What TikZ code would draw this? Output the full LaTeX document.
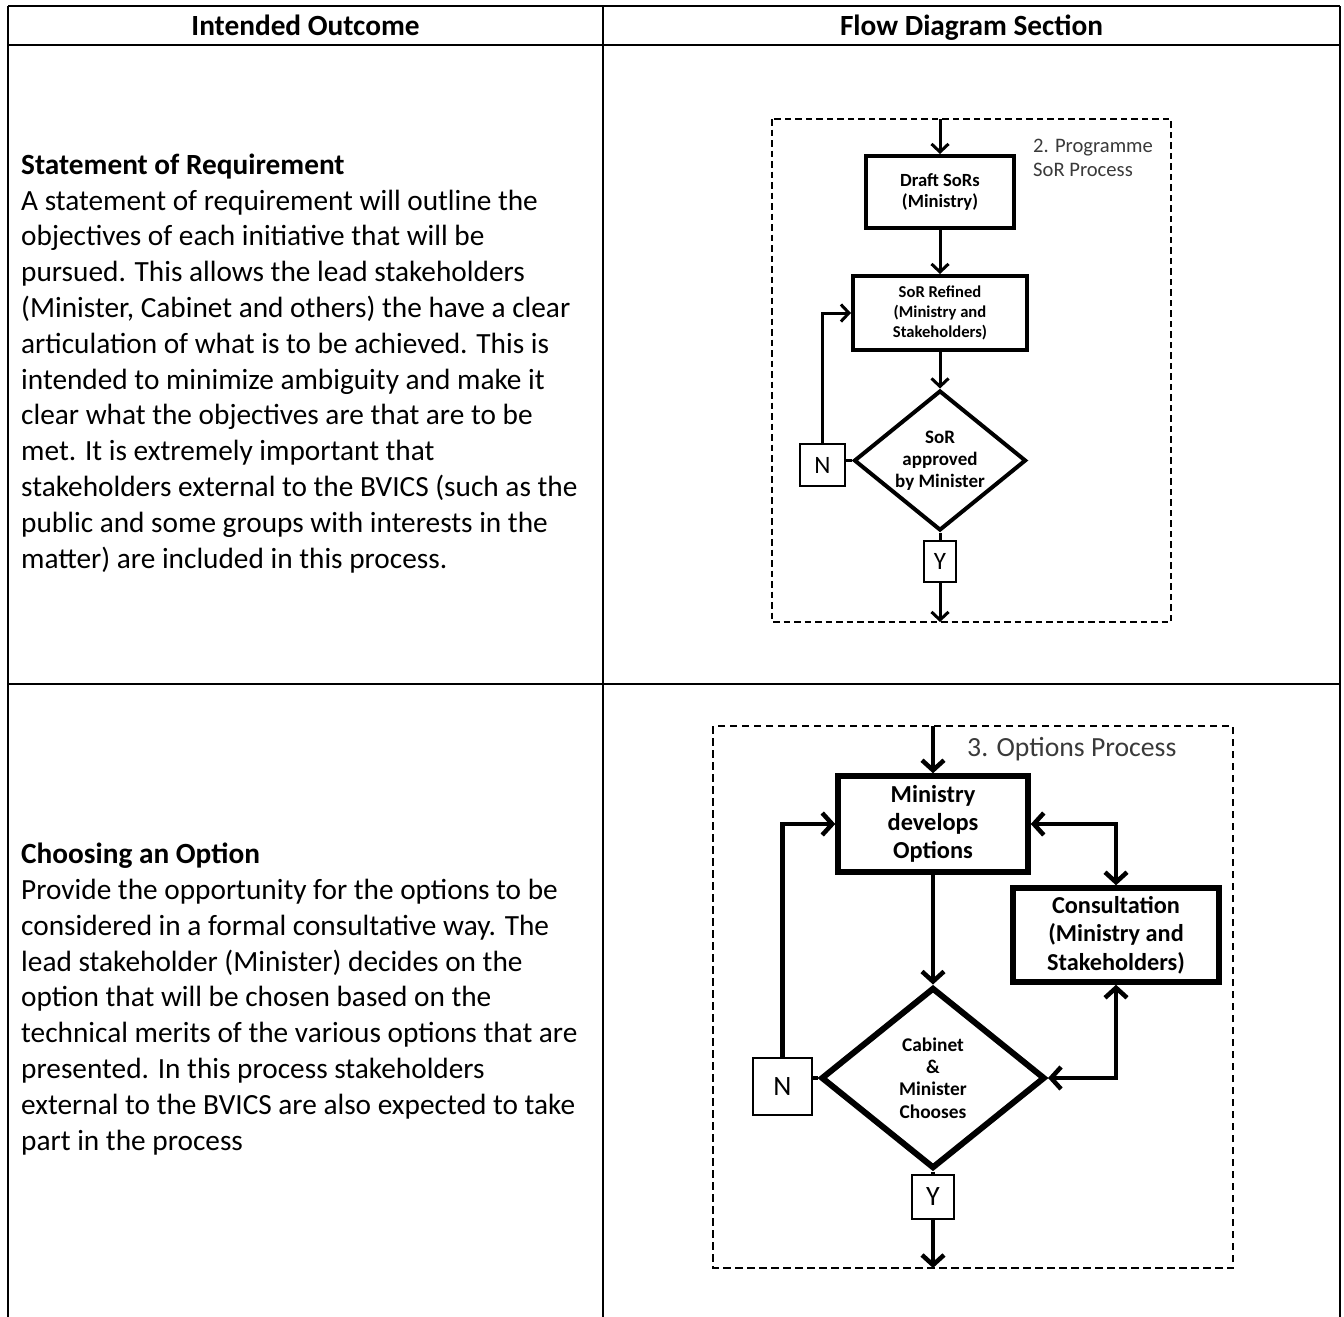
\documentclass[tikz,border=0pt]{standalone}
\usepackage{fontspec}
\setmainfont{Carlito}
\usetikzlibrary{shapes.geometric,arrows.meta}
\definecolor{labelgrey}{HTML}{3A3A3A}
\begin{document}
\begin{tikzpicture}[x=1pt,y=-1pt,
  rule/.style={line width=2.4pt},
  zoneA/.style={draw, line width=1.5pt, dash pattern=on 6.5pt off 4pt},
  zoneB/.style={draw, line width=1.5pt, dash pattern=on 7.5pt off 4.5pt},
  % multi-line nodes are anchored on the baseline of their last line
  celltext/.style={anchor=base west, align=left, inner sep=0pt, font=\fontsize{29.3}{35.8}\selectfont},
  headtext/.style={anchor=base, inner sep=0pt, font=\bfseries\fontsize{29.3}{35.8}\selectfont},
  zonelabel/.style={anchor=base west, align=left, inner sep=0pt, text=labelgrey},
  procA/.style={draw, line width=4pt, inner sep=0pt, align=center},
  procB/.style={draw, line width=5.5pt, inner sep=0pt, align=center},
  decA/.style={draw, diamond, aspect=1.2, line width=4pt, inner sep=0pt, align=center},
  decB/.style={draw, diamond, aspect=1.24, line width=6pt, inner sep=0pt, align=center},
  tagA/.style={draw, line width=2pt, inner sep=0pt, font=\fontsize{25}{28}\selectfont},
  tagB/.style={draw, line width=2pt, inner sep=0pt, font=\fontsize{28}{30}\selectfont},
  lineA/.style={line width=3pt},
  lineB/.style={line width=4.5pt},
  flowA/.style={line width=3pt, -{Straight Barb[length=8pt,width=17pt]}},
  flowB/.style={line width=4.5pt, -{Straight Barb[length=10pt,width=22pt]}},
  bothB/.style={line width=4.5pt, {Straight Barb[length=10pt,width=22pt]}-{Straight Barb[length=10pt,width=22pt]}}
]
% page
\fill[white] (0,0) rectangle (1344,1317);
\useasboundingbox (0,0) rectangle (1344,1317);

% table rules
\draw[rule] (8,6) -- (1340,6);
\draw[rule] (8,45) -- (1340,45);
\draw[rule] (8,684) -- (1340,684);
\draw[rule] (8,6) -- (8,1317);
\draw[rule] (603,6) -- (603,1317);
\draw[rule] (1340,6) -- (1340,1317);

% header row
\node[headtext] (hleft) at (305.5,35) {Intended Outcome};
\node[headtext] (hright) at (971.5,35) {Flow Diagram Section};

% left column texts
\node[celltext] (sortext) at (21,568) {\textbf{Statement of Requirement}\\
A statement of requirement will outline the\\
objectives of each initiative that will be\\
pursued. This allows the lead stakeholders\\
(Minister, Cabinet and others) the have a clear\\
articulation of what is to be achieved. This is\\
intended to minimize ambiguity and make it\\
clear what the objectives are that are to be\\
met. It is extremely important that\\
stakeholders external to the BVICS (such as the\\
public and some groups with interests in the\\
matter) are included in this process.};

\node[celltext] (opttext) at (21,1150) {\textbf{Choosing an Option}\\
Provide the opportunity for the options to be\\
considered in a formal consultative way. The\\
lead stakeholder (Minister) decides on the\\
option that will be chosen based on the\\
technical merits of the various options that are\\
presented. In this process stakeholders\\
external to the BVICS are also expected to take\\
part in the process};

% ---- programme SoR process ----
\draw[zoneA] (772,119) rectangle (1171,622);
\node[zonelabel, font=\fontsize{20.6}{24}\selectfont] (lab1) at (1033,176) {2. Programme\\SoR Process};

\node[procA, minimum width=148pt, minimum height=72pt,
      font=\bfseries\fontsize{18.6}{21}\selectfont] (draft) at (940,192) {Draft SoRs\\(Ministry)};
\node[procA, minimum width=174pt, minimum height=74pt,
      font=\bfseries\fontsize{16.6}{20}\selectfont] (refine) at (940,313) {SoR Refined\\(Ministry and\\Stakeholders)};
\node[decA, minimum width=172pt, minimum height=140pt,
      font=\bfseries\fontsize{19}{22}\selectfont] (appr) at (940,460.5) {SoR\\approved\\by Minister};
\node[tagA, minimum width=45pt, minimum height=42pt] (no1) at (822.5,465) {N};
\node[tagA, minimum width=32pt, minimum height=41pt] (yes1) at (940,561.5) {Y};

\coordinate (in1) at (940,119);
\coordinate (out1) at (940,622);
\draw[flowA] (in1) -- (draft.north);
\draw[flowA] (draft.south) -- (refine.north);
\draw[flowA] (refine.south) -- (appr.north);
\draw[lineA] (appr.west -| no1.east) -- (appr.west);
\draw[flowA] (no1.north) |- (refine.west);
\draw[lineA] (appr.south) -- (yes1.north);
\draw[flowA] (yes1.south) -- (out1);

% ---- options process ----
\draw[zoneB] (713,726) rectangle (1233,1268);
\node[zonelabel, font=\fontsize{27.7}{32}\selectfont] (lab2) at (967,756) {3. Options Process};

\node[procB, minimum width=190pt, minimum height=96pt,
      font=\bfseries\fontsize{24.4}{28}\selectfont] (develop) at (933,824) {Ministry\\develops\\Options};
\node[procB, minimum width=206pt, minimum height=94pt,
      font=\bfseries\fontsize{24.3}{28.5}\selectfont] (consult) at (1116,935) {Consultation\\(Ministry and\\Stakeholders)};
\node[decB, minimum width=224pt, minimum height=181pt,
      font=\bfseries\fontsize{19.4}{22.4}\selectfont] (choose) at (933,1078) {Cabinet\\\&\\Minister\\Chooses};
\node[tagB, minimum width=59pt, minimum height=57pt] (no2) at (782.5,1086.5) {N};
\node[tagB, minimum width=42pt, minimum height=44pt] (yes2) at (933,1197) {Y};

\coordinate (in2) at (933,726);
\coordinate (out2) at (933,1268);
\draw[flowB] (in2) -- (develop.north);
\draw[flowB] (develop.south) -- (choose.north);
\draw[bothB] (develop.east) -| (consult.north);
\draw[bothB] (choose.east) -| (consult.south);
\draw[lineB] (choose.west -| no2.east) -- (choose.west);
\draw[flowB] (no2.north) |- (develop.west);
\draw[lineB] (choose.south) -- (yes2.north);
\draw[flowB] (yes2.south) -- (out2);
\end{tikzpicture}
\end{document}
